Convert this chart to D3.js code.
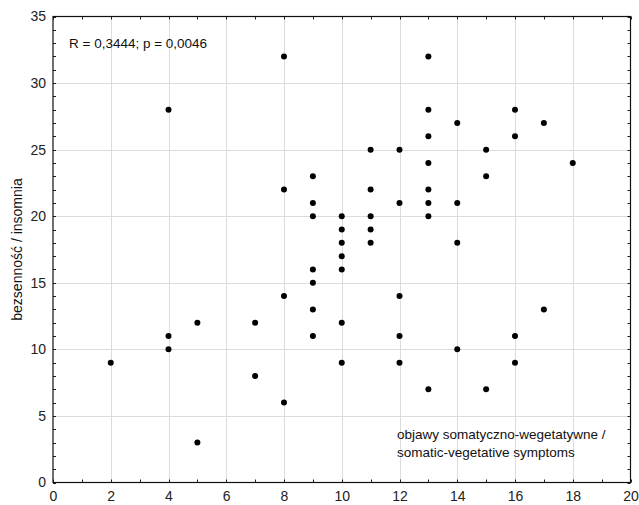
<!DOCTYPE html>
<html>
<head>
<meta charset="utf-8">
<script src="https://cdn.jsdelivr.net/npm/d3@7"></script>
<style>
  body { margin: 0; background: #fff; }
  svg { display: block; font-family: "Liberation Sans", Arial, sans-serif; }
</style>
</head>
<body>
<svg id="chart" width="639" height="505"></svg>
<script>
// Data: x = somatic-vegetative symptoms, y = insomnia
const xValues = [2, 4, 4, 4, 5, 5, 7, 7, 8, 8, 8, 8,
  9, 9, 9, 9, 9, 9, 9,
  10, 10, 10, 10, 10, 10, 10,
  11, 11, 11, 11, 11,
  12, 12, 12, 12, 12,
  13, 13, 13, 13, 13, 13, 13, 13,
  14, 14, 14, 14,
  15, 15, 15,
  16, 16, 16, 16,
  17, 17,
  18];
const yValues = [9, 28, 11, 10, 12, 3, 12, 8, 32, 22, 14, 6,
  23, 21, 20, 16, 15, 13, 11,
  20, 19, 18, 17, 16, 12, 9,
  25, 22, 20, 19, 18,
  25, 21, 14, 11, 9,
  32, 28, 26, 24, 22, 21, 20, 7,
  27, 21, 18, 10,
  25, 23, 7,
  28, 26, 11, 9,
  27, 13,
  24];
const xTicks = [0, 2, 4, 6, 8, 10, 12, 14, 16, 18, 20];
const yTicks = [0, 5, 10, 15, 20, 25, 30, 35];
const statText = "R = 0,3444; p = 0,0046";
const xLabelLines = ["objawy somatyczno-wegetatywne /", "somatic-vegetative symptoms"];
const yLabel = "bezsenność / insomnia";

const svg = d3.select("#chart");
const L = 53, R = 630.5, T = 16.5, B = 482.5;
const x = d3.scaleLinear().domain([0, 20]).range([L, R]);
const y = d3.scaleLinear().domain([0, 35]).range([B, T]);

// grid
const g = svg.append("g");
g.selectAll(".vg").data(xTicks.slice(1, -1)).join("line")
  .attr("x1", d => Math.round(x(d)) + 0.5).attr("x2", d => Math.round(x(d)) + 0.5)
  .attr("y1", T).attr("y2", B).attr("stroke", "#dcdcdc").attr("stroke-width", 1);
g.selectAll(".hg").data(yTicks.slice(1, -1)).join("line")
  .attr("y1", d => Math.round(y(d)) + 0.5).attr("y2", d => Math.round(y(d)) + 0.5)
  .attr("x1", L).attr("x2", R).attr("stroke", "#dcdcdc").attr("stroke-width", 1);

// minor ticks
const xMinor = d3.range(0, 21, 1);
const yMinor = d3.range(0, 36, 1);
const tk = svg.append("g").attr("stroke", "#222").attr("stroke-width", 1);
xMinor.forEach(v => {
  const px = Math.round(x(v)) + 0.5;
  tk.append("line").attr("x1", px).attr("x2", px).attr("y1", B).attr("y2", B - 3);
  tk.append("line").attr("x1", px).attr("x2", px).attr("y1", T).attr("y2", T + 3);
});
yMinor.forEach(v => {
  const py = Math.round(y(v)) + 0.5;
  tk.append("line").attr("y1", py).attr("y2", py).attr("x1", L).attr("x2", L + 3);
  tk.append("line").attr("y1", py).attr("y2", py).attr("x1", R).attr("x2", R - 3);
});

// frame
svg.append("rect").attr("x", L).attr("y", T).attr("width", R - L).attr("height", B - T)
  .attr("fill", "none").attr("stroke", "#111").attr("stroke-width", 1.2);

// axes via d3
const xAxis = d3.axisBottom(x).tickValues(xTicks).tickSize(0).tickPadding(9).tickFormat(d3.format("d"));
const yAxis = d3.axisLeft(y).tickValues(yTicks).tickSize(0).tickPadding(7).tickFormat(d3.format("d"));
const gx = svg.append("g").attr("transform", `translate(0,${B})`).call(xAxis);
const gy = svg.append("g").attr("transform", `translate(${L},0)`).call(yAxis);
[gx, gy].forEach(a => {
  a.select(".domain").remove();
  a.selectAll("text").attr("font-size", 14).attr("fill", "#222")
    .attr("font-family", "'Liberation Sans', Arial, sans-serif");
});

// points
svg.append("g").selectAll("circle").data(xValues.map((v, i) => [v, yValues[i]])).join("circle")
  .attr("cx", d => x(d[0])).attr("cy", d => y(d[1])).attr("r", 3).attr("fill", "#000");

// annotations
svg.append("text").attr("x", 69).attr("y", 48).attr("font-size", 13.5).attr("fill", "#111").text(statText);
svg.append("text").attr("x", 397).attr("y", 439).attr("font-size", 13.5).attr("fill", "#111")
  .selectAll("tspan").data(xLabelLines).join("tspan")
  .attr("x", 397).attr("dy", (d, i) => i === 0 ? 0 : 18).text(d => d);

svg.append("text").attr("transform", `translate(22,${(T + B) / 2}) rotate(-90)`)
  .attr("text-anchor", "middle").attr("font-size", 14).attr("fill", "#111").text(yLabel);
</script>
</body>
</html>
